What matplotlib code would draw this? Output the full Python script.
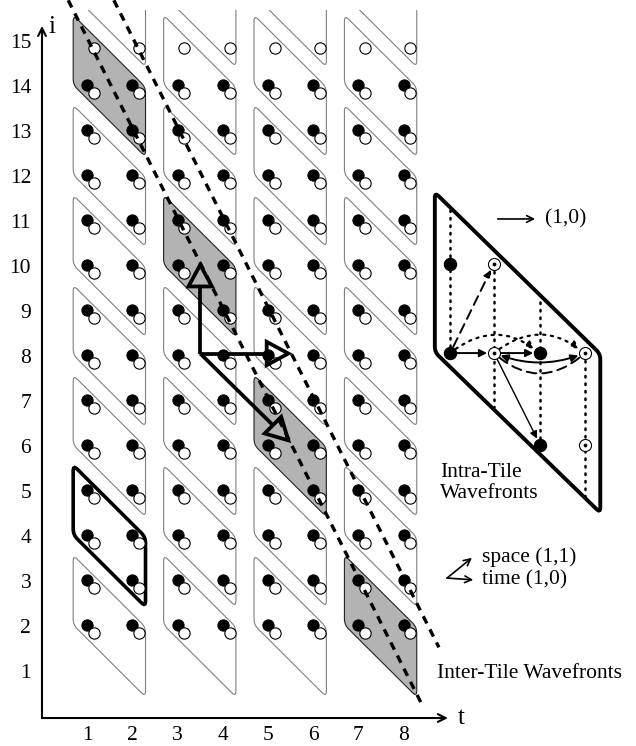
import numpy as np
import matplotlib.pyplot as plt
from matplotlib.path import Path
from matplotlib.patches import PathPatch, Polygon, FancyArrowPatch, Rectangle

plt.rcParams['font.family'] = ['Liberation Serif', 'DejaVu Serif']

# ---- data -------------------------------------------------------------
t_ticks = [1, 2, 3, 4, 5, 6, 7, 8]
i_ticks = [1, 2, 3, 4, 5, 6, 7, 8, 9, 10, 11, 12, 13, 14, 15]
dot_cols = [1, 2, 3, 4, 5, 6, 7, 8]
dot_rows = [2, 3, 4, 5, 6, 7, 8, 9, 10, 11, 12, 13, 14]
top_row = 15                       # only white points there
tile_cols = [1, 3, 5, 7]
tile_rows = [2, 4, 6, 8, 10, 12, 14, 16]
grey_tiles = [(1, 14), (3, 10), (5, 6), (7, 2)]
bold_tile = (1, 4)
# inter-tile wavefronts: i = c - 2 t
wf_slope = -2.0
wf_icept = [17.11, 19.13]
wf_trange = [(0.58, 8.40), (1.59, 8.78)]
# hyperplane arrows
arr_origin = (3.5, 8.1)
arr_tips = [(3.5, 10.07), (5.45, 8.1), (5.45, 6.17)]

# intra-tile panel
panel = [(8.69, 11.68), (8.69, 8.13), (12.35, 4.56), (12.35, 8.09)]
black_pts = [(9.03, 10.1), (9.03, 8.11), (11.02, 8.11), (11.02, 6.07)]
odot_pts = [(10.0, 10.1), (10.0, 8.11), (12.01, 8.11), (12.01, 6.07)]
dotted_v = [(9.03, 11.29, 8.11), (10.0, 10.1, 6.91),
            (11.02, 9.24, 6.07), (12.01, 8.11, 4.91)]

FS = 15.5


def rounded_path(pts, r):
    verts, codes = [], []
    n = len(pts)
    for k in range(n):
        p0 = np.array(pts[k - 1], float)
        p1 = np.array(pts[k], float)
        p2 = np.array(pts[(k + 1) % n], float)
        d1 = (p0 - p1) / np.linalg.norm(p0 - p1)
        d2 = (p2 - p1) / np.linalg.norm(p2 - p1)
        verts.append(p1 + d1 * r)
        codes.append(Path.MOVETO if k == 0 else Path.LINETO)
        verts += [p1, p1 + d2 * r]
        codes += [Path.CURVE3, Path.CURVE3]
    verts.append(verts[0])
    codes.append(Path.CLOSEPOLY)
    return Path(verts, codes)


def tile_corners(t0, i0):
    L, R = t0 - 0.31, t0 + 1.29
    return [(L, i0 + 1.62), (L, i0 + 0.07), (R, i0 - 1.53), (R, i0 + 0.02)]


fig = plt.figure(figsize=(6.36, 7.46), dpi=100)
ax = fig.add_axes([0, 0, 1, 1])
ax.set_xlim(-0.929, 13.14)
ax.set_ylim(-0.622, 15.956)
ax.axis('off')

clip = Rectangle((-1, -1), 20, 16.73, transform=ax.transData)

# tiles
for t0 in tile_cols:
    for i0 in tile_rows:
        if (t0, i0) in grey_tiles:
            fc, ec, lw = '#b3b3b3', '#222222', 0.8
        else:
            fc, ec, lw = 'white', '#808080', 0.8
        if (t0, i0) == bold_tile:
            ec, lw = 'black', 2.6
        p = PathPatch(rounded_path(tile_corners(t0, i0), 0.13), facecolor=fc,
                      edgecolor=ec, lw=lw, zorder=1)
        ax.add_patch(p)
        p.set_clip_path(clip)

# iteration points
bx = [t for t in dot_cols for i in dot_rows]
by = [i + 0.06 for t in dot_cols for i in dot_rows]
ax.scatter(bx, by, s=66, c='black', edgecolors='black', lw=0.7, zorder=2)
wx = [t + 0.15 for t in dot_cols for i in dot_rows + [top_row]]
wy = [i - 0.11 for t in dot_cols for i in dot_rows + [top_row]]
ax.scatter(wx, wy, s=66, c='white', edgecolors='black', lw=0.8, zorder=3)

# inter-tile wavefronts
for c, (ta, tb) in zip(wf_icept, wf_trange):
    ax.plot([ta, tb], [c + wf_slope * ta, c + wf_slope * tb], color='black',
            lw=2.4, ls=(0, (2.4, 2.0)), zorder=4)

# thick arrows with open heads
ox, oy = arr_origin
for tx, ty in arr_tips:
    d = np.array([tx - ox, ty - oy])
    u = d / np.linalg.norm(d)
    nrm = np.array([-u[1], u[0]])
    base = np.array([tx, ty]) - 0.48 * u
    ax.plot([ox, base[0]], [oy, base[1]], color='black', lw=2.7,
            solid_capstyle='butt', zorder=5)
    tri = [base + 0.26 * nrm, (tx, ty), base - 0.26 * nrm]
    ax.add_patch(Polygon(tri, closed=True, fill=False, edgecolor='black',
                         lw=2.7, joinstyle='miter', zorder=5))

# axes
ax.add_patch(FancyArrowPatch((0, 0), (0, 15.38), arrowstyle='->', lw=1.5,
                             mutation_scale=14, shrinkA=0, shrinkB=0,
                             color='black', zorder=6))
ax.add_patch(FancyArrowPatch((0, 0), (8.98, 0), arrowstyle='->', lw=1.5,
                             mutation_scale=14, shrinkA=0, shrinkB=0,
                             color='black', zorder=6))
ax.plot([0, 0.05], [0, 0], color='black', lw=1.5)
ax.text(0.15, 15.36, 'i', fontsize=18, ha='left', va='center')
ax.text(9.2, 0.0, 't', fontsize=18, ha='left', va='center')
for t in t_ticks:
    ax.text(t, -0.38, str(t), fontsize=FS, ha='center', va='center')
for i in i_ticks:
    ax.text(-0.24, i, str(i), fontsize=FS, ha='right', va='center')

# intra-tile panel
ax.add_patch(PathPatch(rounded_path(panel, 0.12), facecolor='none',
                       edgecolor='black', lw=2.8, zorder=1))
for x, y0, y1 in dotted_v:
    ax.plot([x, x], [y0, y1], color='black', lw=1.8,
            ls=(0, (0.6, 2.4)), dash_capstyle='round', zorder=2)
ax.scatter(*zip(*black_pts), s=75, c='black', zorder=4)
ax.scatter(*zip(*odot_pts), s=75, c='white', edgecolors='black', lw=0.8,
           zorder=4)
ax.scatter(*zip(*odot_pts), s=3, c='black', zorder=5)


def link(a, b, style='-|>', ls='-', rad=0.0, lw=1.0):
    ax.add_patch(FancyArrowPatch(a, b, arrowstyle=style, mutation_scale=11,
                                 connectionstyle=f'arc3,rad={rad}', lw=lw,
                                 ls=ls, shrinkA=5, shrinkB=5, color='black',
                                 zorder=3))


link(black_pts[1], odot_pts[1], lw=1.4)
link(odot_pts[1], black_pts[2], lw=1.4)
link(odot_pts[1], black_pts[3], lw=1.0)
link(black_pts[1], odot_pts[0], ls=(0, (5, 3)), lw=1.4)
link(black_pts[1], black_pts[2], ls=(0, (1, 2.5)), rad=-0.4, lw=1.6)
link(odot_pts[1], odot_pts[2], ls=(0, (1, 2.5)), rad=-0.4, lw=1.6)
link(odot_pts[1], odot_pts[2], style='<|-|>', rad=0.2, lw=1.4)
link(odot_pts[1], odot_pts[2], style='-', ls=(0, (5, 3)), rad=0.45, lw=1.4)

ax.add_patch(FancyArrowPatch((10.02, 11.09), (10.97, 11.09), arrowstyle='->',
                             lw=1.2, mutation_scale=12, color='black'))
ax.text(11.13, 11.09, '(1,0)', fontsize=FS, ha='left', va='center')
ax.text(8.8, 5.23, 'Intra-Tile\nWavefronts', fontsize=FS, ha='left',
        va='center', linespacing=1.15)

# space / time legend
ax.add_patch(FancyArrowPatch((8.96, 3.11), (9.51, 3.56), arrowstyle='->',
                             lw=1.2, mutation_scale=12, shrinkA=0, shrinkB=0,
                             color='black'))
ax.add_patch(FancyArrowPatch((8.96, 3.11), (9.54, 3.07), arrowstyle='->',
                             lw=1.2, mutation_scale=12, shrinkA=0, shrinkB=0,
                             color='black'))
ax.text(9.73, 3.58, 'space (1,1)', fontsize=FS, ha='left', va='center')
ax.text(9.73, 3.07, 'time (1,0)', fontsize=FS, ha='left', va='center')
ax.text(8.74, 1.0, 'Inter-Tile Wavefronts', fontsize=FS, ha='left',
        va='center')

fig.savefig('out.png', dpi=100)
